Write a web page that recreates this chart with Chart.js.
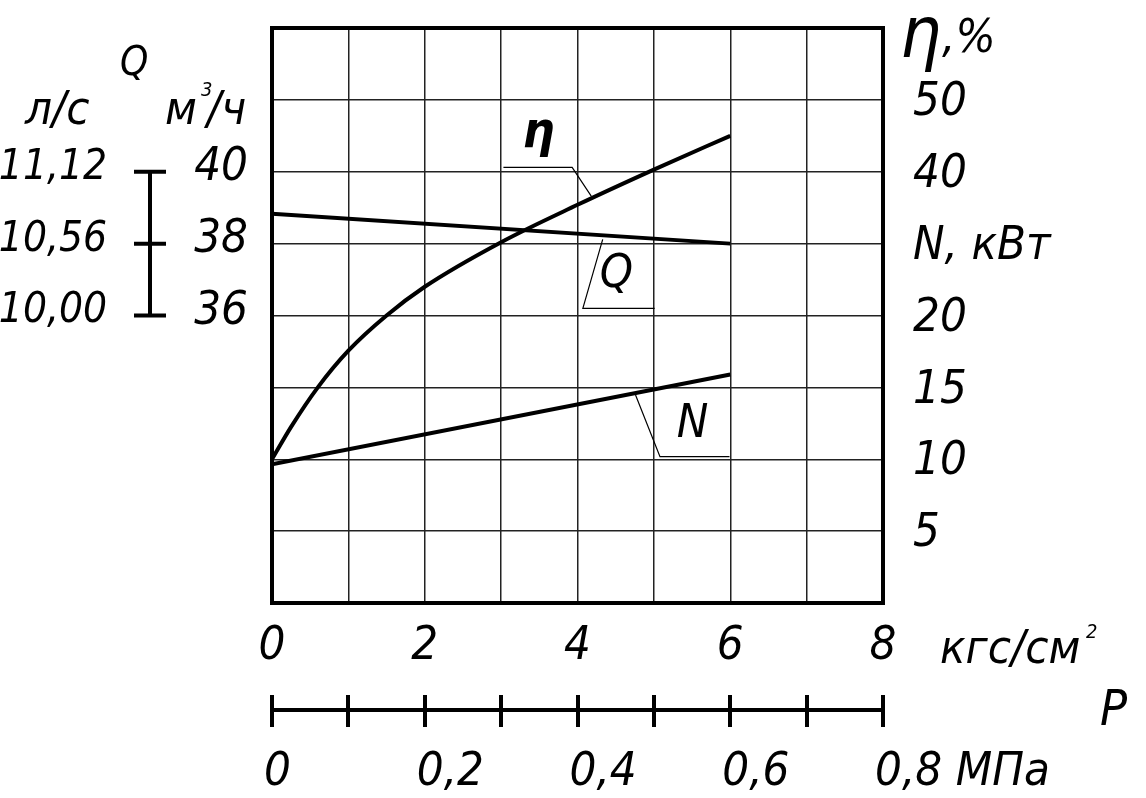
<!DOCTYPE html>
<html lang="ru">
<head>
<meta charset="utf-8">
<title>Характеристика насоса</title>
<script src="https://cdn.jsdelivr.net/npm/chart.js@4/dist/chart.umd.min.js"></script>
<style>
  html, body { margin: 0; padding: 0; background: #fff; }
  #wrap { width: 1146px; height: 798px; }
</style>
</head>
<body>
<div id="wrap"><canvas id="chart" width="1146" height="798"></canvas></div>
<script>
// Давление P, кгс/см2
const etaPressure = [0, 0.25, 0.6, 1, 1.5, 2, 3, 4, 5, 6];
const etaValues = [0, 4.5, 10.0, 15.1, 20.0, 24.0, 30.2, 35.4, 40.3, 45];   // КПД, %
const linePressure = [0, 6];
const qValues = [38.83, 38.0];   // подача, м3/ч
const nValues = [9.65, 15.9];    // мощность, кВт

// Подписи шкал
const pressureLabels = ['0', '', '2', '', '4', '', '6', '', '8'];
const mpaLabels = ['0', '', '0,2', '', '0,4', '', '0,6', '', '0,8 МПа'];
const rightTickValues = [5, 10, 15, 20, 25, 30, 35];
const rightTickLabels = ['5', '10', '15', '20', 'N, кВт', '40', '50'];
const qTickValues = [36, 38, 40];
const qTickLabels = ['36', '38', '40'];
const lsTickLabels = ['10,00', '10,56', '11,12'];

const FONT = "'DejaVu Sans Condensed', 'DejaVu Sans', sans-serif";
const tickFont = { family: FONT, size: 47, style: 'italic' };

function points(xs, ys) {
    return xs.map((x, i) => ({ x: x, y: ys[i] }));
}

// не даём подписям на краях сдвигать поле графика
function noEdgePadding(sc) {
    sc.paddingTop = 0;
    sc.paddingBottom = 0;
    sc.paddingLeft = 0;
    sc.paddingRight = 0;
}

// Подписи, выноски, рамка и линейка Q
const decorPlugin = {
    id: 'decor',
    afterDraw(chart) {
        const ctx = chart.ctx;
        const s = chart.scales;
        const area = chart.chartArea;
        const px = v => s.x.getPixelForValue(v);
        const py = v => s.yN.getPixelForValue(v);

        ctx.save();
        ctx.strokeStyle = '#000';
        ctx.fillStyle = '#000';

        // рамка поля графика
        ctx.lineWidth = 4;
        ctx.strokeRect(area.left, area.top, area.right - area.left, area.bottom - area.top);

        // линия шкалы МПа
        const yLine = s.x2.top + 15;
        ctx.beginPath();
        ctx.moveTo(s.x2.getPixelForValue(0), yLine);
        ctx.lineTo(s.x2.getPixelForValue(0.8), yLine);
        ctx.stroke();

        // линейка Q слева
        const xb = s.yQ.left;
        ctx.beginPath();
        ctx.moveTo(xb, s.yQ.getPixelForValue(qTickValues[0]));
        ctx.lineTo(xb, s.yQ.getPixelForValue(qTickValues[qTickValues.length - 1]));
        qTickValues.forEach(v => {
            const y = s.yQ.getPixelForValue(v);
            ctx.moveTo(xb - 16, y);
            ctx.lineTo(xb + 16, y);
        });
        ctx.stroke();

        // выноски
        const leaders = [
            [[3.03, 30.3], [3.93, 30.3], [4.18, 28.3]],
            [[4.33, 25.3], [4.07, 20.5], [5.01, 20.5]],
            [[4.76, 14.47], [5.08, 10.18], [5.99, 10.18]]
        ];
        ctx.lineWidth = 1.2;
        leaders.forEach(l => {
            ctx.beginPath();
            l.forEach((p, i) => i ? ctx.lineTo(px(p[0]), py(p[1])) : ctx.moveTo(px(p[0]), py(p[1])));
            ctx.stroke();
        });

        ctx.textAlign = 'left';
        ctx.textBaseline = 'alphabetic';
        ctx.font = 'italic bold 50px ' + FONT;
        ctx.fillText('η', px(3.28), py(31.7));
        ctx.font = 'italic 47px ' + FONT;
        ctx.fillText('Q', px(4.29), py(21.98));
        ctx.fillText('N', px(5.30), py(11.55));

        // заголовки шкал
        ctx.font = 'italic 40px ' + FONT;
        ctx.fillText('Q', 120, 75);
        ctx.font = 'italic 47px ' + FONT;
        ctx.fillText('л/с', 25, 124);
        ctx.fillText('м', 165, 124);
        ctx.fillText('/ч', 207, 124);
        ctx.font = 'italic 20px ' + FONT;
        ctx.fillText('3', 201, 96);

        ctx.font = 'italic 72px ' + FONT;
        ctx.fillText('η', 900, 57);
        ctx.font = 'italic 47px ' + FONT;
        ctx.fillText(',%', 942, 52);

        ctx.fillText('кгс/см', 940, 663);
        ctx.font = 'italic 20px ' + FONT;
        ctx.fillText('2', 1086, 638);
        ctx.font = 'italic 50px ' + FONT;
        ctx.fillText('P', 1100, 725);
        ctx.restore();
    }
};

const lineStyle = {
    borderColor: '#000',
    borderWidth: 4,
    pointRadius: 0,
    fill: false
};

new Chart(document.getElementById('chart'), {
    type: 'line',
    data: {
        datasets: [
            Object.assign({ label: 'η', data: points(etaPressure, etaValues), yAxisID: 'yEta', cubicInterpolationMode: 'monotone' }, lineStyle),
            Object.assign({ label: 'Q', data: points(linePressure, qValues), yAxisID: 'yQ' }, lineStyle),
            Object.assign({ label: 'N', data: points(linePressure, nValues), yAxisID: 'yN' }, lineStyle)
        ]
    },
    options: {
        responsive: false,
        animation: false,
        layout: { padding: { top: 28, left: 0, right: 0, bottom: 0 } },
        plugins: { legend: { display: false }, tooltip: { enabled: false } },
        scales: {
            x: {
                type: 'linear', position: 'bottom', min: 0, max: 8, weight: 0,
                ticks: { stepSize: 1, autoSkip: false, maxRotation: 0, font: tickFont, color: '#000', padding: 16,
                         callback: (v, i) => pressureLabels[i] },
                grid: { color: '#222', lineWidth: 1.5, drawTicks: false },
                border: { display: false },
                afterFit: sc => { noEdgePadding(sc); sc.height = 92; }
            },
            x2: {
                type: 'linear', position: 'bottom', min: 0, max: 0.8, weight: 1,
                ticks: { stepSize: 0.1, autoSkip: false, maxRotation: 0, font: tickFont, color: '#000', padding: 18,
                         align: 'start', labelOffset: -8, callback: (v, i) => mpaLabels[i] },
                grid: { drawOnChartArea: false, drawTicks: true, tickLength: 32, lineWidth: 4, color: '#000' },
                border: { display: false },
                afterFit: sc => { noEdgePadding(sc); sc.height = 103; }
            },
            yN: {
                type: 'linear', position: 'right', min: 0, max: 40,
                ticks: { stepSize: 5, font: tickFont, color: '#000', padding: 30, labelOffset: 3,
                         callback: v => { const k = rightTickValues.indexOf(v); return k >= 0 ? rightTickLabels[k] : ''; } },
                grid: { color: '#222', lineWidth: 1.5, drawTicks: false },
                border: { display: false },
                afterFit: sc => { noEdgePadding(sc); sc.width = 263; }
            },
            yQ: {
                type: 'linear', position: 'left', min: 28, max: 44, weight: 0,
                afterBuildTicks: sc => { sc.ticks = qTickValues.map(v => ({ value: v })); },
                ticks: { font: tickFont, color: '#000', padding: 24, labelOffset: -4, callback: (v, i) => qTickLabels[i] },
                grid: { display: false, drawTicks: false },
                border: { display: false },
                afterFit: sc => { noEdgePadding(sc); sc.width = 122; }
            },
            yLs: {
                type: 'linear', position: 'left', min: 28, max: 44, weight: 1,
                afterBuildTicks: sc => { sc.ticks = qTickValues.map(v => ({ value: v })); },
                ticks: { font: Object.assign({}, tickFont, { size: 42 }), color: '#000', padding: 43, labelOffset: -4,
                         callback: (v, i) => lsTickLabels[i] },
                grid: { display: false, drawTicks: false },
                border: { display: false },
                afterFit: sc => { noEdgePadding(sc); sc.width = 150; }
            },
            yEta: { type: 'linear', display: false, min: -20, max: 60 }
        }
    },
    plugins: [decorPlugin]
});
</script>
</body>
</html>
